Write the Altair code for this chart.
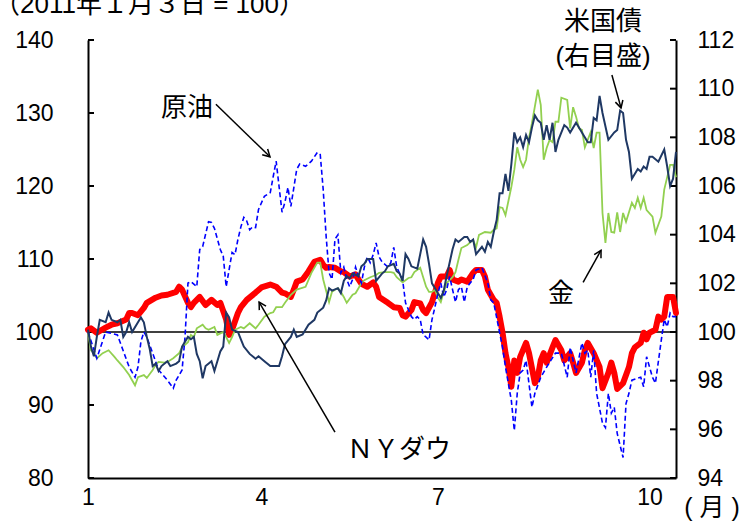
import math
import altair as alt
import pandas as pd

# Trading-day index counted from 3 Jan 2011 (= day 0); index levels with 3 Jan 2011 = 100.
month_pos = [0, 59, 119, 191]
month_names = ["1", "4", "7", "10"]
left_ticks = [80, 90, 100, 110, 120, 130, 140]
right_ticks = [94, 96, 98, 100, 102, 104, 106, 108, 110, 112]

# NY Dow (left scale)
dow_day = [0, 1, 3, 6, 8, 10, 13, 14, 15, 17, 19, 20, 23, 25, 27, 30, 31, 32, 34, 35,
           36, 38, 40, 42, 44, 45, 47, 48, 49, 51, 52, 54, 57, 59, 62, 64, 66, 67, 69, 70,
           71, 73, 75, 77, 79, 80, 81, 82, 84, 86, 87, 89, 91, 92, 93, 95, 97, 98, 99, 102,
           104, 106, 107, 108, 110, 111, 113, 114, 115, 117, 119, 120, 122, 123, 124, 126, 127, 129, 131, 132,
           134, 135, 136, 138, 139, 140, 141, 142, 143, 144, 145, 146, 147, 149, 150, 152, 153, 154, 155, 156,
           158, 159, 161, 162, 164, 165, 166, 168, 169, 170, 172, 174, 175, 177, 178, 179, 180, 182, 184, 185,
           186, 188, 189, 190, 191, 193, 194, 195, 196, 197, 199, 200]
dow_val = [100.3, 100.5, 99.9, 100.6, 101, 101.2, 101.7, 102.6, 102.6, 102.3,
           103.3, 104, 104.7, 105, 105.1, 105.5, 106.2, 105.8, 104, 103.4,
           104, 104.8, 103.7, 104.4, 103.7, 104, 101.7, 99.6, 100.3, 102.6,
           103.4, 104.4, 105.4, 106.1, 106.5, 106.2, 105.4, 105.3, 104.8, 105.8,
           106.9, 107.2, 108.3, 109.6, 109.9, 109.2, 108.8, 108.9, 108.8, 108.3,
           108.2, 107.6, 107.9, 107.2, 106.6, 106.2, 106.8, 106.2, 104.8, 104,
           103.4, 103.3, 102.3, 102.1, 103, 104.1, 103.9, 103, 102.6, 104.1,
           106.7, 107.6, 107.6, 108.5, 107.2, 106.9, 107.2, 106.9, 108.1, 108.5,
           108.5, 107.6, 105.8, 104.4, 104, 102.1, 99.9, 97.1, 95.2, 92.5,
           96.1, 94.4, 96.6, 98.5, 97.1, 93, 93.8, 96.1, 97.1, 95.8,
           97.9, 98.9, 97.5, 96.1, 97.1, 95.8, 94.4, 95.8, 97.5, 98.5,
           97.1, 95.2, 92.3, 94.4, 95.8, 94.4, 92.2, 93, 95.2, 97.1,
           97.9, 98.5, 99.9, 99, 99.9, 100.3, 102.1, 101.7, 102.1, 104.8,
           104.8, 102.6]

# Crude oil (left scale)
oil_day = [0, 3, 6, 10, 14, 16, 17, 18, 19, 20, 22, 24, 27, 29, 30, 32, 33, 34, 35, 37,
           38, 39, 41, 42, 43, 45, 46, 47, 49, 50, 51, 52, 53, 54, 55, 56, 57, 58, 60, 62,
           63, 64, 66, 67, 68, 69, 71, 72, 74, 76, 78, 79, 80, 81, 82, 83, 84, 85, 86, 87,
           88, 89, 90, 91, 92, 93, 94, 95, 96, 97, 98, 99, 100, 102, 103, 104, 105, 107, 108, 110,
           111, 112, 113, 114, 115, 116, 117, 118, 119, 120, 121, 122, 123, 124, 125, 126, 127, 128, 129, 131,
           132, 134, 136, 137, 138, 141, 142, 144, 145, 146, 147, 148, 149, 151, 152, 154, 156, 159, 161, 163,
           164, 165, 166, 168, 169, 170, 171, 172, 173, 175, 176, 177, 178, 179, 180, 182, 183, 184, 185, 188,
           189, 190, 192, 193, 195, 196, 197, 198, 199, 200]
oil_val = [100, 96.4, 100, 99.6, 95.2, 93.8, 95.2, 98.7, 100, 99.3, 97.1, 94.8, 93.4, 92.3, 93.4, 94.8, 99.3, 106.7, 106.9, 106.2,
           111.3, 111.7, 115.1, 115, 114.2, 111.3, 110.4, 106.2, 110.9, 110.6, 112.7, 114.4, 115.7, 115.2, 114, 114.4, 114.3, 116.8, 118.6, 119.1,
           121.3, 123.4, 116.4, 117.8, 119.8, 117.2, 122.3, 123, 122.7, 123.4, 124.6, 124.3, 119.5, 113.1, 108.1, 107.2, 112.7, 113.3, 108.1, 108.9,
           107.2, 106.2, 107.2, 108.9, 107.6, 106.7, 108.9, 110.3, 109.5, 110.6, 112.2, 110.3, 109.6, 108.9, 109.5, 111.6, 108.9, 107.2, 104, 102.1,
           101.7, 102.1, 101.7, 99.6, 99.3, 98.9, 101.7, 103.4, 105.3, 106.7, 104.8, 105.8, 107.6, 105.8, 104.1, 105.8, 106.2, 104.1, 106.2, 107.2,
           108.5, 108.8, 106.7, 104.4, 104, 97.9, 95.2, 90.6, 86.5, 91.6, 94.4, 94.8, 96.1, 89.7, 91.6, 93.8, 95.2, 97.1, 97.1, 93.8,
           97.9, 96.1, 94.4, 98.5, 97.1, 97.5, 93.8, 97.5, 91.6, 87.5, 86.9, 91.6, 88.9, 89.7, 86.1, 82.8, 90.2, 91.6, 93.4, 93.8,
           92.5, 96.6, 93.8, 93, 98.9, 101.7, 100.7, 102.6, 102.1, 102.1]

# Gold (left scale)
gold_day = [0, 1, 2, 3, 5, 7, 9, 10, 12, 14, 15, 16, 17, 19, 20, 22, 23, 24, 26, 27,
            29, 31, 32, 34, 35, 36, 37, 39, 40, 41, 43, 44, 46, 47, 48, 49, 50, 52, 53, 55,
            57, 58, 60, 62, 63, 64, 66, 67, 69, 71, 74, 76, 78, 79, 80, 82, 83, 84, 85, 86,
            87, 88, 90, 91, 92, 93, 94, 96, 98, 99, 101, 103, 104, 105, 107, 108, 109, 110, 111, 113,
            114, 115, 116, 117, 118, 119, 120, 121, 122, 124, 125, 126, 127, 129, 130, 131, 132, 133, 135, 137,
            138, 139, 140, 141, 142, 144, 145, 146, 147, 148, 149, 150, 151, 153, 154, 155, 156, 157, 158, 159,
            160, 161, 163, 164, 165, 166, 167, 168, 169, 171, 172, 173, 174, 175, 176, 177, 178, 179, 180, 181,
            182, 183, 185, 186, 187, 188, 189, 190, 192, 193, 195, 196, 198, 199, 200]
gold_val = [99.9, 97.5, 97.1, 96.4, 97.1, 97.5, 96.6, 96.1, 95.2, 94.1, 93.4, 92.7, 93.8, 94.1, 93.7, 94.8, 95.5, 95.9, 95.8, 95.9,
            96.4, 97.1, 97.9, 98.6, 99.6, 99.3, 100.5, 101, 100.5, 100.3, 100.7, 99.6, 100, 99.3, 98.5, 99.3, 100.3, 100.7, 100.5, 101.2,
            100.5, 101, 102.1, 102.6, 102.7, 103.4, 103.4, 104, 105.1, 105.8, 106.2, 108.1, 109.5, 109.5, 107.2, 104.1, 105.5, 105.8, 106, 105.5,
            104.8, 104, 105.1, 105.3, 106, 106.7, 107.1, 107.5, 107.8, 108.1, 108.2, 108.2, 108.1, 107.5, 106.8, 107.1, 107.4, 107.5, 108.2, 108.8,
            107.5, 106.2, 105.5, 105.5, 105.8, 104.7, 104.1, 105.5, 106.7, 107.5, 108.2, 109.9, 111.5, 111.9, 112.3, 112.6, 111.6, 113.3, 113.7, 113.6,
            114, 114.2, 117.1, 117, 116, 119.9, 122.2, 125.3, 123.6, 122.6, 123.6, 126.6, 128.6, 133.2, 131.1, 123.6, 125.2, 126.3, 126, 128.8,
            128.8, 132.1, 131.8, 127.9, 130.8, 129.5, 127.9, 127.7, 125.3, 127.4, 125.2, 127.3, 127.3, 116.3, 112.2, 116.3, 113.7, 113.6, 116.4, 113.7,
            116.3, 115.1, 117.7, 117, 118.4, 117, 118.4, 116.7, 115.8, 113.6, 115.8, 119.5, 122.9, 122.9, 121.2]

# US Treasuries (right scale)
bond_day = [0, 1, 2, 3, 4, 6, 7, 8, 10, 11, 12, 13, 14, 15, 17, 18, 19, 20, 21, 22,
            23, 24, 25, 27, 28, 30, 31, 32, 34, 35, 36, 37, 38, 39, 40, 42, 43, 44, 45, 46,
            47, 48, 49, 51, 52, 53, 55, 57, 58, 60, 62, 63, 65, 66, 67, 69, 70, 71, 73, 75,
            77, 78, 80, 81, 82, 83, 85, 86, 87, 88, 89, 90, 92, 93, 94, 95, 97, 98, 100, 101,
            102, 104, 105, 106, 107, 108, 109, 110, 112, 113, 114, 115, 116, 117, 119, 120, 121, 122, 124, 125,
            126, 128, 129, 130, 131, 132, 134, 135, 136, 137, 138, 139, 140, 141, 142, 143, 144, 145, 146, 147,
            148, 149, 150, 151, 152, 153, 154, 155, 156, 157, 158, 159, 160, 162, 163, 164, 166, 167, 168, 170,
            171, 172, 173, 174, 175, 177, 179, 180, 181, 182, 183, 184, 185, 187, 188, 189, 190, 191, 192, 194,
            196, 197, 198, 199, 200]
bond_val = [100.1, 99.4, 99, 99.8, 100.5, 100.4, 100.8, 100.5, 100.4, 100.5, 99.8, 100, 100.4, 100, 100.4, 100.6, 100.4, 99.8, 99.3, 98.6,
            98.7, 98.4, 98.6, 98.8, 98.6, 98.7, 98.8, 99.4, 99.8, 99.7, 99.8, 99.1, 98.8, 98.1, 98.6, 98.8, 98.4, 98.8, 99.2, 99.4,
            100.8, 100.6, 100.1, 100, 99.7, 99.4, 99.1, 98.9, 99, 98.8, 98.6, 98.6, 98.6, 99, 99.5, 99.8, 100.1, 99.8, 99.9, 100.3,
            100.5, 100.8, 101, 101.3, 101.8, 101.7, 101.8, 101.6, 102.1, 102.3, 102.2, 102.4, 102.3, 102.7, 102.8, 103, 103, 102.1, 102.4, 102.5,
            102.7, 102.8, 102.5, 102.4, 102.1, 103.2, 103, 102.7, 102.6, 103.2, 103.8, 103.5, 102.8, 102, 101.6, 101.4, 101.7, 102.3, 103.4, 103.8,
            103.7, 103.9, 103.9, 103.7, 103.8, 103.2, 103.5, 103.3, 103.7, 103.5, 104.1, 104.6, 105.7, 105.7, 106.5, 105.8, 106.9, 108.2, 107.8, 108,
            107.6, 108.1, 107.8, 108.4, 108.9, 108.7, 108.6, 107.9, 108.5, 107.9, 108.6, 107.4, 107.9, 108.5, 108.4, 108.2, 108.6, 108.4, 108.2, 107.8,
            107.8, 108.8, 108.7, 109.7, 109, 107.9, 108.2, 108.3, 109.1, 109, 107.9, 107.4, 106.3, 106.7, 106.6, 106.8, 106.7, 107.2, 107.2, 107,
            107.5, 106.8, 106, 106.3, 107.4]

# Callout labels (positioned on the left-scale coordinates)
note_text = ["原油", "米国債", "(右目盛)", "ＮＹダウ", "金"]
note_day = [33.7, 175.2, 175.2, 105.8, 160.9]
note_val = [130.7, 142.5, 137.7, 83.8, 105.2]

# Leader arrows: start point -> tip
arrow_from_day = [43.5, 178.2, 84.0, 168.4]
arrow_from_val = [131.2, 135.2, 86.3, 106.8]
arrow_to_day = [61.9, 181.3, 58.2, 174.5]
arrow_to_val = [124.0, 130.7, 104.1, 111.2]

W, H = 588, 438
DAYS = [0, 200]
LEFT = [80, 140]
RIGHT = [94, 112]
FONT = "Liberation Sans, Noto Sans CJK JP"

x_scale = alt.Scale(domain=DAYS, nice=False, zero=False)
yl_scale = alt.Scale(domain=LEFT, nice=False, zero=False)
yr_scale = alt.Scale(domain=RIGHT, nice=False, zero=False)

label_expr = " : ".join(
    f"datum.value == {p} ? '{m}'" for p, m in zip(month_pos, month_names)
) + " : ''"

axis_common = dict(title=None, ticks=False, grid=False, domainColor="black",
                   domainWidth=2, labelFont="Liberation Sans", labelFontSize=23,
                   labelColor="black", labelFlush=False, labelOverlap=False)
x_axis = alt.Axis(values=month_pos, labelExpr=label_expr, labelPadding=8, **axis_common)
yl_axis = alt.Axis(values=left_ticks, orient="left", labelPadding=35, **axis_common)
yr_axis = alt.Axis(values=right_ticks, orient="right", labelPadding=21, **axis_common)


def X(field):
    return alt.X(f"{field}:Q", scale=x_scale, axis=x_axis)


def YL(field, axis=True):
    return alt.Y(f"{field}:Q", scale=yl_scale, axis=yl_axis if axis else None)


def YR(field):
    return alt.Y(f"{field}:Q", scale=yr_scale, axis=yr_axis)


def series(days, vals):
    return pd.DataFrame({"day": days, "v": vals})


# --- left-scale series ---
baseline = alt.Chart(pd.DataFrame({"v": [100]})).mark_rule(
    color="black", strokeWidth=1.5).encode(y=YL("v"))
left_tick_marks = alt.Chart(pd.DataFrame({"v": left_ticks})).mark_rule(
    color="black", strokeWidth=2).encode(x=alt.value(0), x2=alt.value(6), y=YL("v"))
dow = alt.Chart(series(dow_day, dow_val)).mark_line(
    color="#FF0000", strokeWidth=6, strokeJoin="round", strokeCap="round"
).encode(x=X("day"), y=YL("v"))
gold = alt.Chart(series(gold_day, gold_val)).mark_line(
    color="#92D050", strokeWidth=1.8
).encode(x=X("day"), y=YL("v"))
oil = alt.Chart(series(oil_day, oil_val)).mark_line(
    color="#0000FF", strokeWidth=1.6, strokeDash=[5, 3]
).encode(x=X("day"), y=YL("v"))
left_group = alt.layer(baseline, left_tick_marks, dow, gold, oil)

# --- right-scale series ---
right_tick_marks = alt.Chart(pd.DataFrame({"v": right_ticks})).mark_rule(
    color="black", strokeWidth=2).encode(x=alt.value(W - 6), x2=alt.value(W), y=YR("v"))
bond = alt.Chart(series(bond_day, bond_val)).mark_line(
    color="#1F3864", strokeWidth=2
).encode(x=X("day"), y=YR("v"))
right_group = alt.layer(right_tick_marks, bond)

# --- callouts ---
px_day = W / (DAYS[1] - DAYS[0])
px_val = H / (LEFT[1] - LEFT[0])
angles = []
for d0, v0, d1, v1 in zip(arrow_from_day, arrow_from_val, arrow_to_day, arrow_to_val):
    a = math.degrees(math.atan2((d1 - d0) * px_day, (v1 - v0) * px_val))
    angles.append(a % 360)

arrow_rows = []
for i, (d0, v0, d1, v1) in enumerate(zip(arrow_from_day, arrow_from_val, arrow_to_day, arrow_to_val)):
    arrow_rows += [{"id": i, "day": d0, "v": v0}, {"id": i, "day": d1, "v": v1}]
arrow_lines = alt.Chart(pd.DataFrame(arrow_rows)).mark_line(
    color="black", strokeWidth=1.5
).encode(x=X("day"), y=YL("v", axis=False), detail="id:N")
arrow_heads = alt.Chart(pd.DataFrame({"day": arrow_to_day, "v": arrow_to_val, "ang": angles})).mark_point(
    shape="M -0.55 1 L 0 0 L 0.55 1", filled=False, size=200, strokeWidth=1.5,
    color="black", opacity=1
).encode(x=X("day"), y=YL("v", axis=False), angle=alt.Angle("ang:Q", scale=None))
notes = alt.Chart(pd.DataFrame({"day": note_day, "v": note_val, "t": note_text})).mark_text(
    font=FONT, fontSize=26, color="black", align="center", baseline="middle"
).encode(x=X("day"), y=YL("v", axis=False), text="t:N")
unit_title = alt.Chart(pd.DataFrame({"t": ["（2011年１月３日 = 100）"]})).mark_text(
    font=FONT, fontSize=26, color="black", align="left", baseline="alphabetic"
).encode(x=alt.value(-94), y=alt.value(-27), text="t:N")
month_unit = alt.Chart(pd.DataFrame({"t": ["( 月 )"]})).mark_text(
    font=FONT, fontSize=25, color="black", align="center", baseline="middle"
).encode(x=alt.value(624), y=alt.value(468), text="t:N")
note_group = alt.layer(arrow_lines, arrow_heads, notes, unit_title, month_unit)

chart = alt.layer(left_group, right_group, note_group).resolve_scale(
    y="independent"
).properties(
    width=W, height=H,
    autosize=alt.AutoSizeParams(type="none"),
    padding={"left": 88, "top": 40, "right": 68, "bottom": 50},
    background="white",
).configure_view(stroke=None)

chart.save("out.html", embed_options={"renderer": "svg", "actions": False})
